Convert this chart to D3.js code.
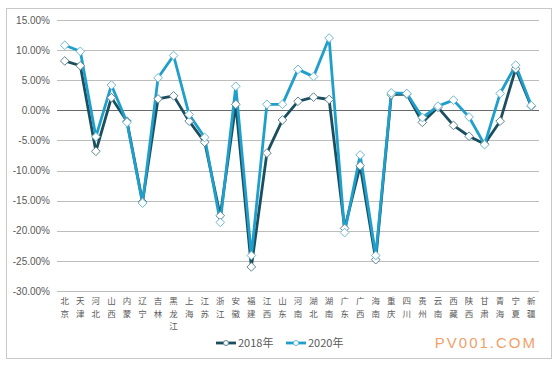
<!DOCTYPE html>
<html>
<head>
<meta charset="utf-8">
<script src="https://cdn.jsdelivr.net/npm/d3@7"></script>
<style>
  body { margin: 0; background: #fff; }
  svg { font-family: "Microsoft YaHei", "Noto Sans CJK SC", sans-serif; }
</style>
</head>
<body>
<script>
var provinces = ["北京","天津","河北","山西","内蒙","辽宁","吉林","黑龙江","上海","江苏","浙江","安徽","福建","江西","山东","河南","湖北","湖南","广东","广西","海南","重庆","四川","贵州","云南","西藏","陕西","甘肃","青海","宁夏","新疆"];

var values2018 = [8.2, 7.4, -6.8, 2.1, -1.8, -15.2, 1.9, 2.4, -1.8, -5.3, -17.5, 1.0, -26.0, -7.1, -1.6, 1.5, 2.2, 1.8, -19.6, -9.2, -24.8, 2.6, 2.7, -2.0, 0.5, -2.5, -4.3, -5.6, -1.8, 6.9, 0.7];
var values2020 = [10.8, 9.8, -4.4, 4.2, -2.0, -15.4, 5.4, 9.1, -0.7, -4.5, -18.6, 4.0, -24.1, 1.0, 1.0, 6.8, 5.6, 12.0, -20.3, -7.4, -24.1, 2.9, 2.8, -1.2, 0.7, 1.7, -1.1, -5.7, 2.8, 7.5, 0.8];

var yTicks = [15, 10, 5, 0, -5, -10, -15, -20, -25, -30];

var seriesNames = ["2018年", "2020年"];
var seriesColors = ["#1b4e5e", "#1f9fcb"];

var svgWidth = 560;
var svgHeight = 370;

var chartMargin = { top: 20, right: 21, bottom: 79, left: 57 };
var chartWidth = svgWidth - chartMargin.left - chartMargin.right;
var chartHeight = svgHeight - chartMargin.top - chartMargin.bottom;

var svg = d3.select("body")
    .append("svg")
    .attr("width", svgWidth)
    .attr("height", svgHeight);

// outer frame
svg.append("rect")
    .attr("x", 6.5)
    .attr("y", 8.5)
    .attr("width", 545)
    .attr("height", 350)
    .attr("fill", "none")
    .attr("stroke", "#c8c8c8");

var chartGroup = svg.append("g")
    .attr("transform", `translate(${chartMargin.left}, ${chartMargin.top})`);

var xScale = d3.scalePoint()
    .domain(provinces)
    .range([0, chartWidth])
    .padding(0.5);

var yScale = d3.scaleLinear()
    .domain([-30, 15])
    .range([chartHeight, 0]);

// gridlines
chartGroup.selectAll(".grid")
    .data(yTicks)
    .enter()
    .append("line")
    .attr("x1", 0)
    .attr("x2", chartWidth)
    .attr("y1", d => Math.round(yScale(d)) + 0.5)
    .attr("y2", d => Math.round(yScale(d)) + 0.5)
    .attr("stroke", d => d === 0 ? "#6a6a6a" : "#bdbdbd")
    .attr("stroke-width", 1.2);

// y labels
var leftAxis = d3.axisLeft(yScale)
    .tickValues(yTicks)
    .tickSize(0)
    .tickPadding(7)
    .tickFormat(d => d.toFixed(2) + "%");

chartGroup.append("g")
    .call(leftAxis)
    .call(g => g.select(".domain").remove())
    .selectAll("text")
    .attr("fill", "#595959")
    .style("font-size", "10px")
    .style("font-family", "Arial, 'Liberation Sans', sans-serif");

// x labels, one character per row
var xLabels = chartGroup.append("g")
    .attr("transform", `translate(0, ${chartHeight + 13})`);

provinces.forEach(function (p) {
    p.split("").forEach(function (ch, i) {
        xLabels.append("text")
            .attr("x", xScale(p))
            .attr("y", i * 12.5)
            .attr("text-anchor", "middle")
            .attr("fill", "#595959")
            .style("font-size", "8.5px")
            .text(ch);
    });
});

var line = d3.line()
    .x((d, i) => xScale(provinces[i]))
    .y(d => yScale(d));

var diamond = d3.symbol().type(d3.symbolDiamond2).size(48);

[values2018, values2020].forEach(function (vals, s) {
    chartGroup.append("path")
        .datum(vals)
        .attr("fill", "none")
        .attr("stroke", seriesColors[s])
        .attr("stroke-width", 2.8)
        .attr("stroke-linejoin", "round")
        .attr("d", line);
});

[values2018, values2020].forEach(function (vals, s) {
    chartGroup.selectAll(".pt" + s)
        .data(vals)
        .enter()
        .append("path")
        .attr("class", "pt" + s)
        .attr("d", diamond)
        .attr("transform", (d, i) => `translate(${xScale(provinces[i])}, ${yScale(d)})`)
        .attr("fill", "#ffffff")
        .attr("stroke", s === 0 ? "#5f8590" : "#6fb8d2")
        .attr("stroke-width", 1);
});

// legend
var legend = svg.append("g")
    .attr("transform", "translate(216, 343)");

seriesNames.forEach(function (name, s) {
    var g = legend.append("g")
        .attr("transform", `translate(${s * 70}, 0)`);
    g.append("line")
        .attr("x1", 0)
        .attr("x2", 20)
        .attr("stroke", seriesColors[s])
        .attr("stroke-width", 2.8);
    g.append("circle")
        .attr("cx", 10)
        .attr("r", 2.5)
        .attr("fill", "#fff")
        .attr("stroke", s === 0 ? "#5f8590" : "#6fb8d2");
    g.append("text")
        .attr("x", 22)
        .attr("y", 4)
        .attr("fill", "#595959")
        .style("font-size", "11px")
        .text(name);
});

// watermark
svg.append("text")
    .attr("x", 537)
    .attr("y", 348)
    .attr("text-anchor", "end")
    .attr("fill", "#f2a06a")
    .style("font-size", "15px")
    .style("letter-spacing", "2px")
    .style("font-family", "Arial, 'Liberation Sans', sans-serif")
    .text("PV001.COM");
</script>
</body>
</html>
